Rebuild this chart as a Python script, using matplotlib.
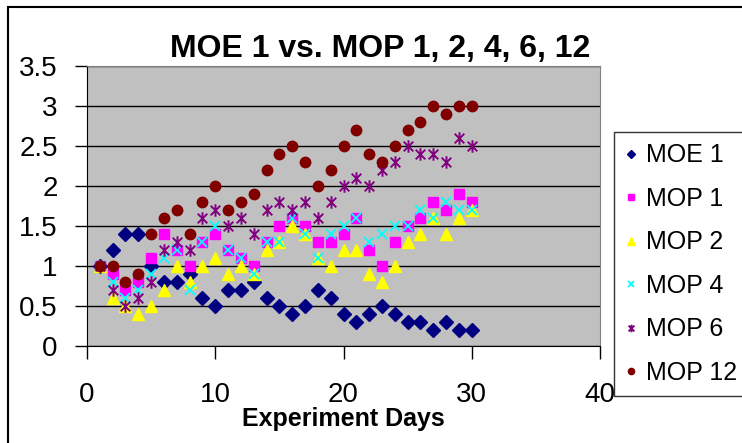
import matplotlib
matplotlib.use("Agg")
import matplotlib.pyplot as plt
from matplotlib.path import Path
from matplotlib.patches import Rectangle
from matplotlib.ticker import FuncFormatter, MultipleLocator

plt.rcParams["font.family"] = ["Liberation Sans", "DejaVu Sans"]

# ---------------------------------------------------------------------------
# data
# ---------------------------------------------------------------------------
days = list(range(1, 31))

moe_1 = [1.0, 1.2, 1.4, 1.4, 1.0, 0.8, 0.8, 0.9, 0.6, 0.5,
         0.7, 0.7, 0.8, 0.6, 0.5, 0.4, 0.5, 0.7, 0.6, 0.4,
         0.3, 0.4, 0.5, 0.4, 0.3, 0.3, 0.2, 0.3, 0.2, 0.2]
mop_1 = [1.0, 0.9, 0.7, 0.8, 1.1, 1.4, 1.2, 1.0, 1.3, 1.4,
         1.2, 1.1, 1.0, 1.3, 1.5, 1.6, 1.5, 1.3, 1.3, 1.4,
         1.6, 1.2, 1.0, 1.3, 1.5, 1.6, 1.8, 1.7, 1.9, 1.8]
mop_2 = [1.0, 0.6, 0.5, 0.4, 0.5, 0.7, 1.0, 0.8, 1.0, 1.1,
         0.9, 1.0, 0.9, 1.2, 1.3, 1.5, 1.4, 1.1, 1.0, 1.2,
         1.2, 0.9, 0.8, 1.0, 1.3, 1.4, 1.6, 1.4, 1.6, 1.7]
mop_4 = [1.0, 0.8, 0.6, 0.7, 0.9, 1.1, 1.2, 0.7, 1.3, 1.5,
         1.2, 1.1, 0.9, 1.3, 1.3, 1.6, 1.4, 1.1, 1.4, 1.5,
         1.6, 1.3, 1.4, 1.5, 1.5, 1.7, 1.6, 1.8, 1.7, 1.7]
mop_6 = [1.0, 0.7, 0.5, 0.6, 0.8, 1.2, 1.3, 1.2, 1.6, 1.7,
         1.5, 1.6, 1.4, 1.7, 1.8, 1.7, 1.8, 1.6, 1.8, 2.0,
         2.1, 2.0, 2.2, 2.3, 2.5, 2.4, 2.4, 2.3, 2.6, 2.5]
mop_12 = [1.0, 1.0, 0.8, 0.9, 1.4, 1.6, 1.7, 1.4, 1.8, 2.0,
          1.7, 1.8, 1.9, 2.2, 2.4, 2.5, 2.3, 2.0, 2.2, 2.5,
          2.7, 2.4, 2.3, 2.5, 2.7, 2.8, 3.0, 2.9, 3.0, 3.0]

labels = ["MOE 1", "MOP 1", "MOP 2", "MOP 4", "MOP 6", "MOP 12"]

# Excel style asterisk: an x with a vertical bar through it
asterisk = Path(
    [(-1, -1), (1, 1), (-1, 1), (1, -1), (0, -1.3), (0, 1.3)],
    [Path.MOVETO, Path.LINETO, Path.MOVETO, Path.LINETO, Path.MOVETO, Path.LINETO],
)

styles = [
    dict(marker="D", color="#000080", ms=7),
    dict(marker="s", color="#FF00FF", ms=7.5),
    dict(marker="^", color="#FFFF00", ms=8.5),
    dict(marker="x", color="#00FFFF", ms=7.5, mew=1.3),
    dict(marker=asterisk, color="#800080", ms=9, mew=1.4),
    dict(marker="o", color="#800000", ms=7.5),
]

# ---------------------------------------------------------------------------
# figure
# ---------------------------------------------------------------------------
W, H = 742, 443
fig = plt.figure(figsize=(W / 100, H / 100), dpi=100)
ax = fig.add_axes([87 / W, 1 - 346 / H, (600 - 87) / W, (346 - 66) / H])
ax.set_facecolor("#C0C0C0")

series = [moe_1, mop_1, mop_2, mop_4, mop_6, mop_12]
for vals, lbl, st in zip(series, labels, styles):
    st = dict(st)
    ax.plot(days, vals, linestyle="none", label=lbl,
            markeredgecolor=st["color"], markerfacecolor=st.pop("color"),
            zorder=3, **st)

ax.set_xlim(0, 40)
ax.set_ylim(0, 3.5)
ax.xaxis.set_major_locator(MultipleLocator(10))
ax.yaxis.set_major_locator(MultipleLocator(0.5))
ax.yaxis.set_major_formatter(FuncFormatter(lambda v, p: f"{v:g}"))
ax.grid(axis="y", color="black", lw=1, zorder=1)
ax.set_axisbelow(True)

ax.tick_params(axis="both", labelsize=20, length=9, width=1, color="black")
ax.tick_params(axis="x", pad=17)
ax.tick_params(axis="y", pad=12)

for side in ("top", "right"):
    ax.spines[side].set_color("#808080")
for side in ("left", "bottom"):
    ax.spines[side].set_color("black")

ax.set_xlabel("Experiment Days", fontsize=18, fontweight="bold", labelpad=-1)

fig.text(380 / W, 1 - 49 / H, "MOE 1 vs. MOP 1, 2, 4, 6, 12",
         ha="center", va="center", fontsize=23, fontweight="bold")

leg = fig.legend(loc="upper left", bbox_to_anchor=(614 / W, 1 - 132 / H),
                 fontsize=18, frameon=True, fancybox=False, markerscale=0.6,
                 handlelength=0.45, handletextpad=0.4, labelspacing=0.78,
                 borderpad=0.45, borderaxespad=0)
leg.get_frame().set_edgecolor("black")
leg.get_frame().set_linewidth(1)

# outer chart border (Excel chart area)
fig.patches.append(Rectangle((8 / W, -0.1), 1.2, 1 - 7 / H + 0.1,
                             transform=fig.transFigure, fill=False,
                             edgecolor="black", lw=1.5))

fig.savefig("out.png", dpi=100)
